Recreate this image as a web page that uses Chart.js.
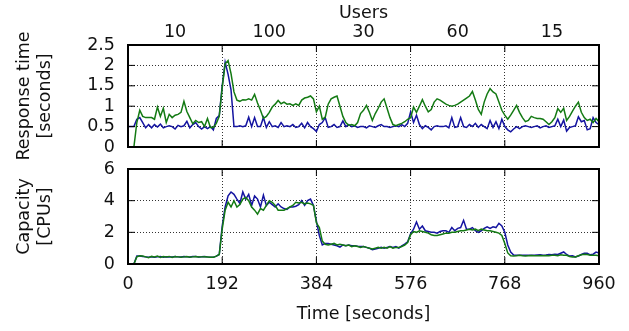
<!DOCTYPE html>
<html lang="en">
<head>
<meta charset="UTF-8">
<title>Response time and capacity</title>
<script src="https://cdn.jsdelivr.net/npm/chart.js"></script>
<style>
  html, body { margin: 0; padding: 0; background: #fff; }
  #wrap { position: relative; width: 629px; height: 331px; }
  #wrap canvas { position: absolute; left: 0; }
</style>
</head>
<body>
<div id="wrap">
  <canvas id="bottomChart" width="629" height="181" style="top:150px"></canvas>
  <!-- full height so the rotated axis title is not cut off; transparent over the lower chart -->
  <canvas id="topChart" width="629" height="331" style="top:0"></canvas>
</div>
<script>
// users per phase (labels on the top axis, one per 192 s phase)
const userPhases = ['10', '100', '30', '60', '15'];
const phaseCentres = [96, 288, 480, 672, 864];
const timeTicks = [0, 192, 384, 576, 768, 960];
const respTicks = [0, 0.5, 1, 1.5, 2, 2.5];
const capTicks = [0, 2, 4, 6];

// one sample every 6 s, 0..960
const sampleStep = 6;

// response time [seconds], green series
const respGreen = [
  null, null, 0, 0.6, 0.9, 0.75, 0.72, 0.72, 0.72, 0.68, 0.98, 0.75, 0.95, 0.6, 0.8, 0.72, 0.78, 0.8, 0.85, 1.12, 0.87, 0.72, 0.57, 0.65, 0.6, 0.62, 0.5, 0.7, 0.48, 0.48, 0.58, 0.75,
  1.45, 2.04, 2.12, 1.8, 1.35, 1.15, 1.12, 1.16, 1.15, 1.18, 1.15, 1.29, 1.08, 0.9, 0.7, 0.75, 0.85, 0.98, 1.05, 1.14, 1.06, 1.1, 1.05, 1.06, 1.02, 1.06, 1.02, 1.15, 1.2, 1.22, 1.25, 1.18,
  0.86, 1.0, 0.68, 0.73, 1.05, 1.18, 1.22, 1.25, 1.0, 0.75, 0.6, 0.53, 0.55, 0.52, 0.6, 0.82, 0.9, 1.02, 0.85, 0.65, 0.82, 0.95, 1.1, 1.18, 0.95, 0.72, 0.55, 0.52, 0.55, 0.58, 0.62, 0.68,
  0.72, 0.98, 0.85, 1.0, 1.16, 1.0, 0.86, 0.92, 1.1, 1.18, 1.15, 1.1, 1.05, 1.02, 1.0, 1.02, 1.05, 1.1, 1.15, 1.2, 1.25, 1.36, 1.15, 0.92, 0.8, 1.1, 1.3, 1.43, 1.35, 1.3, 1.1, 0.9,
  0.78, 0.68, 0.78, 0.9, 1.02, 0.85, 0.72, 0.62, 0.65, 0.75, 0.72, 0.7, 0.7, 0.68, 0.62, 0.55, 0.62, 0.72, 0.94, 0.85, 0.95, 0.65, 0.75, 0.88, 1.0, 1.1, 0.85, 0.72, 0.65, 0.68, 0.6, 0.7, 0.62
];

// response time [seconds], blue series
const respBlue = [
  0.5, 0.5, 0.5, 0.68, 0.72, 0.6, 0.47, 0.55, 0.47, 0.55, 0.49, 0.56, 0.47, 0.5, 0.52, 0.5, 0.44, 0.53, 0.5, 0.52, 0.63, 0.47, 0.55, 0.6, 0.5, 0.44, 0.5, 0.45, 0.5, 0.42, 0.7, 0.77,
  1.5, 2.08, 1.78, 1.4, 0.5, 0.5, 0.52, 0.5, 0.52, 0.73, 0.5, 0.72, 0.5, 0.5, 0.72, 0.48, 0.62, 0.5, 0.52, 0.48, 0.6, 0.5, 0.52, 0.5, 0.55, 0.48, 0.5, 0.58, 0.47, 0.6, 0.5, 0.45,
  0.38, 0.55, 0.6, 0.72, 0.48, 0.5, 0.55, 0.48, 0.5, 0.64, 0.5, 0.55, 0.5, 0.52, 0.48, 0.5, 0.5, 0.47, 0.52, 0.5, 0.48, 0.52, 0.55, 0.5, 0.5, 0.48, 0.5, 0.52, 0.5, 0.55, 0.5, 0.58,
  0.86, 0.6, 0.78, 0.55, 0.45, 0.52, 0.48, 0.42, 0.5, 0.52, 0.5, 0.5, 0.52, 0.47, 0.72, 0.48, 0.5, 0.72, 0.5, 0.48, 0.55, 0.5, 0.58, 0.48, 0.55, 0.5, 0.45, 0.65, 0.48, 0.62, 0.45, 0.68,
  0.5, 0.42, 0.37, 0.44, 0.5, 0.45, 0.5, 0.52, 0.5, 0.48, 0.5, 0.52, 0.47, 0.5, 0.52, 0.48, 0.5, 0.52, 0.68, 0.5, 0.66, 0.39, 0.48, 0.5, 0.52, 0.74, 0.62, 0.65, 0.42, 0.45, 0.72, 0.6, 0.55
];

// capacity [CPUs], blue series
const capBlue = [
  null, null, 0, 0.5, 0.5, 0.48, 0.45, 0.42, 0.45, 0.43, 0.45, 0.48, 0.43, 0.45, 0.44, 0.45, 0.47, 0.45, 0.44, 0.48, 0.46, 0.45, 0.47, 0.48, 0.45, 0.46, 0.48, 0.45, 0.43, 0.42, 0.5, 0.6,
  2.4, 3.6, 4.3, 4.55, 4.4, 4.1, 3.83, 4.55, 4.1, 4.4, 3.7, 4.3, 4.1, 3.6, 4.35, 3.7, 3.9, 3.75, 3.6, 3.8, 3.6, 3.5, 3.45, 3.6, 3.6, 3.65, 3.75, 4.0, 3.7, 4.0, 4.1, 3.7,
  2.7, 1.8, 1.2, 1.3, 1.3, 1.25, 1.2, 1.15, 1.06, 1.2, 1.15, 1.2, 1.15, 1.15, 1.12, 1.1, 1.1, 1.05, 1.0, 0.9, 0.95, 1.0, 1.05, 1.0, 1.05, 1.1, 1.05, 1.1, 1.0, 1.15, 1.25, 1.4,
  1.9, 2.2, 2.65, 2.2, 2.4, 2.1, 2.05, 2.0, 2.0, 1.95, 2.05, 2.1, 2.1, 2.0, 2.3, 2.1, 2.25, 2.3, 2.76, 2.2, 2.2, 2.3, 2.1, 2.0, 2.1, 2.25, 2.35, 2.25, 2.35, 2.3, 2.57, 2.4,
  2.0, 1.2, 0.75, 0.56, 0.55, 0.56, 0.55, 0.55, 0.56, 0.56, 0.55, 0.57, 0.58, 0.56, 0.57, 0.6, 0.58, 0.62, 0.6, 0.68, 0.76, 0.6, 0.5, 0.52, 0.45, 0.5, 0.6, 0.68, 0.68, 0.58, 0.62, 0.75, 0.7
];

// capacity [CPUs], green series
const capGreen = [
  null, null, 0, 0.45, 0.52, 0.5, 0.45, 0.4, 0.48, 0.45, 0.5, 0.42, 0.47, 0.45, 0.48, 0.42, 0.47, 0.45, 0.42, 0.45, 0.47, 0.43, 0.45, 0.47, 0.44, 0.45, 0.46, 0.44, 0.42, 0.43, 0.5, 0.6,
  2.2, 3.4, 3.9, 3.6, 4.0, 3.6, 3.75, 4.1, 4.2, 4.0, 3.6, 3.4, 3.15, 3.5, 3.4, 3.7, 4.0, 3.9, 3.7, 3.4, 3.4, 3.4, 3.5, 3.6, 3.7, 3.9, 3.85, 3.9, 3.8, 3.85, 3.8, 3.7,
  2.6, 2.3, 1.45, 1.25, 1.2, 1.25, 1.3, 1.2, 1.25, 1.2, 1.15, 1.2, 1.1, 1.15, 1.1, 1.05, 1.1, 1.05, 1.0, 0.95, 1.0, 1.05, 1.0, 1.05, 1.0, 1.1, 1.0, 1.05, 1.05, 1.1, 1.2, 1.35,
  1.85, 2.05, 2.0, 2.1, 2.05, 2.0, 1.95, 1.85, 1.8, 1.8, 1.85, 1.9, 1.95, 1.95, 2.0, 2.0, 2.05, 2.1, 2.1, 2.15, 2.2, 2.15, 2.2, 2.1, 2.2, 2.15, 2.1, 2.1, 2.05, 2.0, 1.95, 1.8,
  1.3, 0.7, 0.52, 0.5, 0.52, 0.55, 0.52, 0.5, 0.52, 0.53, 0.52, 0.52, 0.53, 0.52, 0.54, 0.52, 0.55, 0.55, 0.52, 0.58, 0.55, 0.55, 0.48, 0.45, 0.45, 0.52, 0.58, 0.62, 0.6, 0.55, 0.55, 0.55, 0.52
];

const BLUE = '#1414a0';
const GREEN = '#137a13';

Chart.defaults.font.family = '"DejaVu Sans", sans-serif';
Chart.defaults.font.size = 17.5;
Chart.defaults.color = '#111';

const times = respBlue.map((_, i) => i * sampleStep);
const toPoints = arr => arr.map((v, i) => ({ x: times[i], y: v }));
const fixedTicks = list => s => { s.ticks = list.map(v => ({ value: v })); };
// fixed axis width, and no extra label overflow padding above/below the plot
const leftAxisFit = s => { s.width = 128; s.paddingTop = 0; s.paddingBottom = 0; };

// gnuplot-like frame with inward tick marks on all four sides
const framePlugin = {
  id: 'frame',
  afterDatasetsDraw(chart) {
    const { ctx, chartArea: a, scales } = chart;
    const len = 7;
    ctx.save();
    ctx.strokeStyle = '#000';
    ctx.lineWidth = 1;
    ctx.beginPath();
    scales.y.ticks.forEach(t => {
      const y = scales.y.getPixelForValue(t.value);
      ctx.moveTo(a.left, y); ctx.lineTo(a.left + len, y);
      ctx.moveTo(a.right, y); ctx.lineTo(a.right - len, y);
    });
    scales.x.ticks.forEach(t => {
      const x = scales.x.getPixelForValue(t.value);
      ctx.moveTo(x, a.top); ctx.lineTo(x, a.top + len);
      ctx.moveTo(x, a.bottom); ctx.lineTo(x, a.bottom - len);
    });
    ctx.stroke();
    ctx.lineWidth = 2;
    ctx.strokeRect(a.left, a.top, a.right - a.left, a.bottom - a.top);
    ctx.restore();
  }
};

function gridColour(min, max) {
  return c => (c.tick && (c.tick.value === min || c.tick.value === max)) ? 'rgba(0,0,0,0)' : '#333';
}

function lineSet(data, colour, order) {
  return {
    data: toPoints(data),
    borderColor: colour,
    borderWidth: 1.5,
    pointRadius: 0,
    tension: 0,
    spanGaps: false,
    order: order
  };
}

const commonPlugins = { legend: { display: false }, tooltip: { enabled: false } };

// top: response time (plot area ends at y = 147; the rest of the canvas is empty padding)
new Chart(document.getElementById('topChart'), {
  type: 'line',
  data: { datasets: [lineSet(respGreen, GREEN, 0), lineSet(respBlue, BLUE, 1)] },
  options: {
    responsive: false,
    animation: false,
    devicePixelRatio: 1,
    layout: { padding: { left: 0, right: 30, top: 0, bottom: 184 } },
    plugins: commonPlugins,
    scales: {
      x: {
        type: 'linear', min: 0, max: 960,
        afterBuildTicks: fixedTicks(timeTicks),
        ticks: { display: false },
        grid: { color: gridColour(0, 960), drawTicks: false, lineWidth: 1 },
        border: { display: false, dash: [1, 2] },
        afterFit: s => { s.height = 0; }
      },
      x2: {
        type: 'linear', position: 'top', min: 0, max: 960,
        afterBuildTicks: fixedTicks(phaseCentres),
        ticks: { callback: (v, i) => userPhases[i], padding: 2, maxRotation: 0, autoSkip: false },
        grid: { display: false, drawTicks: false },
        border: { display: false },
        title: { display: true, text: 'Users', padding: { top: 3, bottom: 0 } },
        afterFit: s => { s.height = 45; }
      },
      y: {
        min: 0, max: 2.5,
        afterBuildTicks: fixedTicks(respTicks),
        ticks: { padding: 13, autoSkip: false, callback: v => String(v) },
        grid: { color: gridColour(0, 2.5), drawTicks: false, lineWidth: 1 },
        border: { display: false, dash: [1, 2] },
        title: { display: true, text: ['Response time', '[seconds]'], padding: { top: 14, bottom: 0 } },
        afterFit: leftAxisFit
      }
    }
  },
  plugins: [framePlugin]
});

// bottom: capacity
new Chart(document.getElementById('bottomChart'), {
  type: 'line',
  data: { datasets: [lineSet(capGreen, GREEN, 0), lineSet(capBlue, BLUE, 1)] },
  options: {
    responsive: false,
    animation: false,
    devicePixelRatio: 1,
    layout: { padding: { left: 0, right: 30, top: 19, bottom: 0 } },
    plugins: commonPlugins,
    scales: {
      x: {
        type: 'linear', min: 0, max: 960,
        afterBuildTicks: fixedTicks(timeTicks),
        ticks: { padding: 10, maxRotation: 0, autoSkip: false, callback: v => String(v) },
        grid: { color: gridColour(0, 960), drawTicks: false, lineWidth: 1 },
        border: { display: false, dash: [1, 2] },
        title: { display: true, text: 'Time [seconds]', padding: { top: 0, bottom: 6 } },
        afterFit: s => { s.height = 67; }
      },
      y: {
        min: 0, max: 6,
        afterBuildTicks: fixedTicks(capTicks),
        ticks: { padding: 13, autoSkip: false, callback: v => String(v) },
        grid: { color: gridColour(0, 6), drawTicks: false, lineWidth: 1 },
        border: { display: false, dash: [1, 2] },
        title: { display: true, text: ['Capacity', '[CPUs]'], padding: { top: 14, bottom: 0 } },
        afterFit: leftAxisFit
      }
    }
  },
  plugins: [framePlugin]
});
</script>
</body>
</html>
